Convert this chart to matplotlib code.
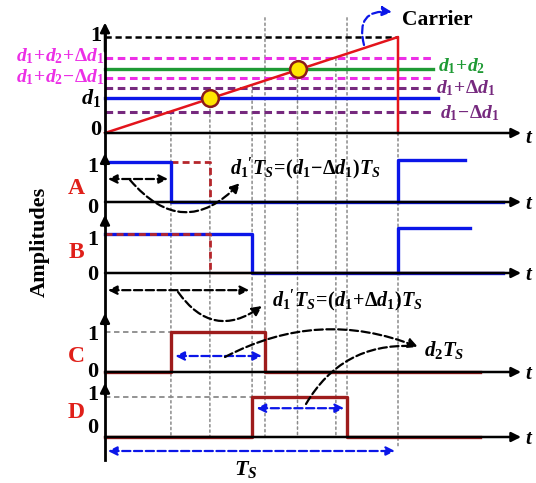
import matplotlib
matplotlib.use('Agg')
import matplotlib.pyplot as plt
from matplotlib.patches import ConnectionPatch

plt.rcParams['font.family'] = 'Liberation Serif'
plt.rcParams['font.weight'] = 'bold'
plt.rcParams['mathtext.fontset'] = 'custom'
plt.rcParams['mathtext.rm'] = 'Liberation Serif:bold'
plt.rcParams['mathtext.it'] = 'Liberation Serif:bold:italic'
plt.rcParams['mathtext.bf'] = 'Liberation Serif:bold'

BLUE = '#0b16e8'
RED = '#e3141c'
DRED = '#9e1c1c'
RDASH = '#b5262b'
MAG = '#ec2fe6'
PURP = '#76297e'
GREEN = '#1e9a34'
GRAY = '#8a8a8a'

# modulating levels (fraction of carrier peak)
level_labels = [r'$d_1\!+\!d_2\!+\!\Delta d_1$', r'$d_1\!+\!d_2$', r'$d_1\!+\!d_2\!-\!\Delta d_1$',
                r'$d_1\!+\!\Delta d_1$', r'$d_1$', r'$d_1\!-\!\Delta d_1$']
level_vals = [0.78, 0.67, 0.57, 0.47, 0.36, 0.22]
level_colors = [MAG, GREEN, MAG, PURP, BLUE, PURP]
level_styles = ['--', '-', '--', '--', '-', '--']
level_end = [1.12, 1.12, 1.12, 1.12, 1.135, 1.12]

# carrier (one sawtooth period, t in units of Ts)
carrier_t = [0, 1, 1]
carrier_v = [0, 1, 0]

# switching instants, t/Ts
t_a = 0.225     # A turns off  (d1 - dd1)
t_nom = 0.358   # nominal d1
t_b = 0.502     # B turns off  (d1 + dd1)
t_c = 0.546     # C turns off
t_d = 0.826     # D turns off
vert_t = [0.225, 0.358, 0.502, 0.546, 0.657, 0.788, 0.826, 1.0]
vert_top = [0.22, 0.36, 0.50, 1.20, 0.67, 0.78, 1.20, 1.0]
cross_t = [0.36, 0.657]
cross_v = [0.36, 0.67]

# pulse trains
A_t = [0, t_a, t_a, 1.36]
A_v = [1, 1, 0, 0]
A2_t = [1, 1, 1.23]
A2_v = [0, 1.05, 1.05]
Ad_t = [t_a, t_nom, t_nom]
Ad_v = [1, 1, 0]
B_t = [0, t_b, t_b, 1.36]
B_v = [1, 1, 0, 0]
B2_t = [1, 1, 1.245]
B2_v = [0, 1.15, 1.15]
Bd_t = [0, t_nom, t_nom]
Bd_v = [1, 1, 0]
C_t = [0, t_a, t_a, t_c, t_c, 1.28]
C_v = [0, 0, 1, 1, 0, 0]
D_t = [0, t_b, t_b, t_d, t_d, 1.28]
D_v = [0, 0, 1, 1, 0, 0]

W, H = 536, 483
X0, X1 = -105 / 293, (W - 105) / 293

fig = plt.figure(figsize=(W / 100, H / 100), dpi=100)


def panel(p0, p1, lo=-0.8, hi=1.6):
    g = p0 - p1
    bot = p0 - lo * g
    top = p0 - hi * g
    ax = fig.add_axes([0, 1 - bot / H, 1, (bot - top) / H])
    ax.set_xlim(X0, X1)
    ax.set_ylim(lo, hi)
    ax.axis('off')
    return ax


ax0 = panel(133, 37)
axA = panel(202, 162)
axB = panel(273, 234)
axC = panel(372, 332)
axD = panel(437, 397)
ov = fig.add_axes([0, 0, 1, 1])
ov.set_xlim(0, W)
ov.set_ylim(H, 0)
ov.axis('off')

# vertical dotted guides through all panels
for t, top in zip(vert_t, vert_top):
    bottom = -0.25 if t == 1.0 else 0
    cp = ConnectionPatch(xyA=(t, top), coordsA=ax0.transData, xyB=(t, bottom), coordsB=axD.transData,
                         color=GRAY, lw=1.1, linestyle=(0, (1.5, 2)), zorder=-1)
    fig.add_artist(cp)

# time axes with arrows
axis_arrow = dict(arrowstyle='-|>', color='k', lw=1.8, mutation_scale=14, shrinkA=0, shrinkB=0)
tip_lv = {ax0: 1.15, axA: 1.22, axB: 1.49, axC: 1.47, axD: 1.35}
for ax in [ax0, axA, axB, axC, axD]:
    ax.annotate('', xy=(1.42, 0), xytext=(0, 0), arrowprops=axis_arrow)
    ax.text(1.432, -0.05, r'$t$', fontsize=15, va='center', ha='left')
    ax.annotate('', xy=(0, tip_lv[ax]), xytext=(0, tip_lv[ax] - 0.3), arrowprops=axis_arrow)
ov.plot([105, 105], [30, 460], color='k', lw=2)

# carrier panel
ax0.plot([0, 1], [1, 1], color='k', ls='--', lw=1.8, dashes=(2.5, 1.5))
for v, c, s, e in zip(level_vals, level_colors, level_styles, level_end):
    if s == '--':
        ax0.plot([0, e], [v, v], color=c, lw=2.2, ls='--', dashes=(2.5, 1.5))
    else:
        ax0.plot([0, e], [v, v], color=c, lw=2.4)
ax0.plot(carrier_t, carrier_v, color=RED, lw=1.8)
ax0.plot(cross_t, cross_v, 'o', ms=12, mfc='#ffe600', mec='#8b1a1a', mew=1.8)

# A / B / C / D
axA.plot(Ad_t, Ad_v, color=RDASH, lw=2, ls='--', dashes=(2.5, 1.5))
axA.plot(A_t, A_v, color=BLUE, lw=2.4)
axA.plot(A2_t, A2_v, color=BLUE, lw=2.4)
axB.plot(B_t, B_v, color=BLUE, lw=2.4)
axB.plot(B2_t, B2_v, color=BLUE, lw=2.4)
axB.plot(Bd_t, Bd_v, color=RDASH, lw=2, ls='--', dashes=(2.5, 1.5))
axB.plot([t_nom, 1.36], [0, 0], color=DRED, lw=1.6)
axC.plot([0, t_a], [1, 1], color=GRAY, lw=1.3, ls='--', dashes=(3, 2))
axC.plot(C_t, C_v, color=DRED, lw=2.4)
axD.plot([0, t_b], [1, 1], color=GRAY, lw=1.3, ls='--', dashes=(3, 2))
axD.plot(D_t, D_v, color=DRED, lw=2.4)

# span arrows
kdash = dict(arrowstyle='<|-|>', color='k', lw=1.6, ls='--', mutation_scale=13, shrinkA=0, shrinkB=0)
bdash = dict(arrowstyle='<|-|>', color=BLUE, lw=1.6, ls='--', mutation_scale=13, shrinkA=0, shrinkB=0)
axA.annotate('', xy=(t_a - 0.01, 0.575), xytext=(0.01, 0.575), arrowprops=kdash)
axB.annotate('', xy=(t_b - 0.01, -0.44), xytext=(0.01, -0.44), arrowprops=kdash)
axC.annotate('', xy=(t_c - 0.01, 0.4), xytext=(t_a + 0.015, 0.4), arrowprops=bdash)
axD.annotate('', xy=(t_d - 0.01, 0.72), xytext=(t_b + 0.015, 0.72), arrowprops=bdash)
axD.annotate('', xy=(0.99, -0.35), xytext=(0.01, -0.35), arrowprops=bdash)

# curved call-outs
def curve(p1, p2, rad, color='k', head=True):
    ov.annotate('', xy=p2, xytext=p1,
                arrowprops=dict(arrowstyle='-|>' if head else '-', color=color, lw=1.6, ls='--',
                                mutation_scale=14, shrinkA=0, shrinkB=0,
                                connectionstyle='arc3,rad=%s' % rad))

curve((130, 180), (240, 183), 0.55)
curve((178, 292), (262, 306), 0.5)
curve((225, 357), (418, 347), -0.23)
curve((306, 404), (412, 346), -0.3, head=False)
curve((364, 45), (392, 12), -0.7, color=BLUE)

# labels
fs = 16
lfs = 14
ov.text(W - 134, 20, 'Carrier', fontsize=15.5, va='center', ha='left')
ov.text(101, 36, '1', fontsize=fs, ha='right', va='center')
ov.text(104, 56, level_labels[0], fontsize=lfs, color=MAG, ha='right', va='center')
ov.text(104, 77, level_labels[2], fontsize=lfs, color=MAG, ha='right', va='center')
ov.text(101, 98, level_labels[4], fontsize=16, color='k', ha='right', va='center')
ov.text(101, 130, '0', fontsize=fs, ha='right', va='center')
ov.text(438, 66, level_labels[1], fontsize=lfs, color=GREEN, ha='left', va='center')
ov.text(436, 88, level_labels[3], fontsize=lfs, color=PURP, ha='left', va='center')
ov.text(440, 113, level_labels[5], fontsize=lfs, color=PURP, ha='left', va='center')

for name, y1, y0, yl in [('A', 167, 208, 188), ('B', 240, 275, 253), ('C', 335, 372, 357), ('D', 395, 428, 413)]:
    ov.text(98, y1, '1', fontsize=fs, ha='right', va='center')
    ov.text(98, y0, '0', fontsize=fs, ha='right', va='center')
    ov.text(76, yl, name, fontsize=17, color='#e0201a', ha='center', va='center')

ov.text(40, 242, 'Amplitudes', fontsize=16, rotation=90, ha='center', va='center')
ov.text(230, 168, r"$d_1{'}T_S\!=\!(d_1\!-\!\Delta d_1)T_S$", fontsize=14.5, ha='left', va='center')
ov.text(272, 300, r"$d_1{'}T_S\!=\!(d_1\!+\!\Delta d_1)T_S$", fontsize=14.5, ha='left', va='center')
ov.text(424, 350, r'$d_2T_S$', fontsize=15, ha='left', va='center')
ov.text(246, 470, r'$T_S$', fontsize=16, ha='center', va='center')

fig.savefig('out.png', dpi=100)
